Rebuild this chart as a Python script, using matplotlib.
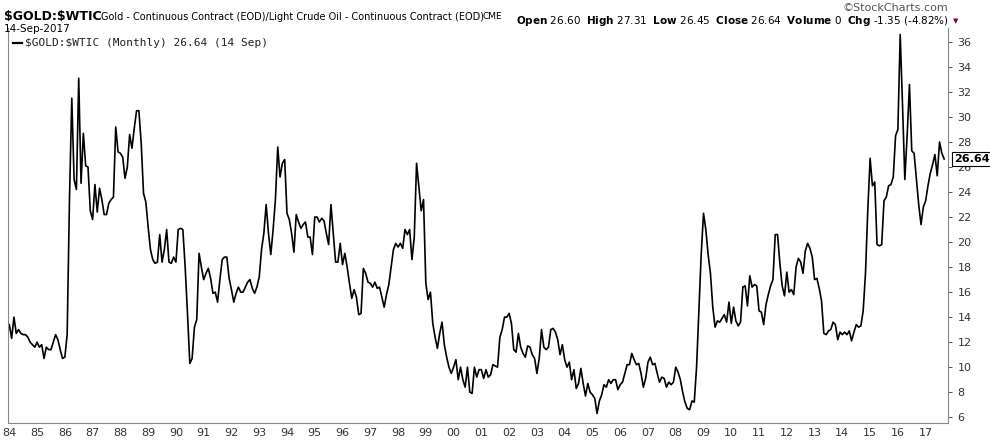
import numpy as np
import matplotlib.pyplot as plt

# monthly ratio values, Jan 1984 .. Sep 2017
Y1984 = [13.4, 12.3, 14.0, 12.7, 13.0, 12.7, 12.6, 12.6, 12.4, 12.0, 11.8, 11.6]
Y1985 = [12.0, 11.6, 11.8, 10.7, 11.6, 11.4, 11.4, 12.0, 12.6, 12.2, 11.4, 10.7]
Y1986 = [10.8, 12.6, 23.4, 31.5, 25.0, 24.2, 33.1, 24.7, 28.7, 26.1, 26.0, 22.5]
Y1987 = [21.8, 24.6, 22.4, 24.3, 23.4, 22.2, 22.2, 23.1, 23.4, 23.6, 29.2, 27.2]
Y1988 = [27.1, 26.8, 25.1, 26.0, 28.6, 27.5, 29.1, 30.5, 30.5, 27.9, 23.9, 23.2]
Y1989 = [21.2, 19.4, 18.6, 18.3, 18.4, 20.6, 18.4, 19.4, 21.0, 18.4, 18.3, 18.8]
Y1990 = [18.4, 21.0, 21.1, 21.0, 18.0, 14.3, 10.3, 10.7, 13.2, 13.8, 19.1, 18.0]
Y1991 = [17.0, 17.5, 17.9, 17.1, 15.9, 16.0, 15.2, 17.0, 18.6, 18.8, 18.8, 17.1]
Y1992 = [16.2, 15.2, 15.9, 16.4, 16.0, 16.0, 16.4, 16.8, 17.0, 16.3, 15.9, 16.4]
Y1993 = [17.2, 19.4, 20.7, 23.0, 20.7, 19.0, 21.0, 23.4, 27.6, 25.2, 26.3, 26.6]
Y1994 = [22.3, 21.8, 20.7, 19.2, 22.2, 21.6, 21.1, 21.4, 21.6, 20.4, 20.4, 19.0]
Y1995 = [22.0, 22.0, 21.6, 21.9, 21.7, 20.7, 19.8, 23.0, 20.7, 18.4, 18.4, 19.9]
Y1996 = [18.2, 19.1, 18.0, 16.7, 15.5, 16.2, 15.6, 14.2, 14.3, 17.9, 17.5, 16.8]
Y1997 = [16.7, 16.4, 16.8, 16.3, 16.4, 15.6, 14.8, 15.8, 16.6, 18.0, 19.4, 19.9]
Y1998 = [19.6, 19.9, 19.5, 21.0, 20.6, 21.0, 18.6, 20.4, 26.3, 24.4, 22.5, 23.4]
Y1999 = [16.7, 15.4, 16.0, 13.5, 12.4, 11.5, 12.7, 13.6, 11.8, 10.8, 10.0, 9.5]
Y2000 = [10.0, 10.6, 9.0, 10.0, 9.0, 8.4, 10.0, 8.0, 7.9, 10.0, 9.2, 9.8]
Y2001 = [9.8, 9.1, 9.8, 9.2, 9.4, 10.2, 10.1, 10.0, 12.4, 13.0, 14.0, 14.0]
Y2002 = [14.3, 13.5, 11.4, 11.2, 12.7, 11.6, 11.1, 10.8, 11.7, 11.6, 11.0, 10.7]
Y2003 = [9.5, 10.7, 13.0, 11.6, 11.4, 11.6, 13.0, 13.1, 12.8, 12.2, 11.0, 11.8]
Y2004 = [10.6, 10.0, 10.4, 9.0, 9.8, 8.3, 8.7, 9.9, 8.7, 7.7, 8.7, 8.0]
Y2005 = [7.8, 7.5, 6.3, 7.3, 7.8, 8.6, 8.4, 9.0, 8.7, 9.0, 9.0, 8.2]
Y2006 = [8.6, 8.8, 9.5, 10.2, 10.2, 11.1, 10.6, 10.2, 10.3, 9.5, 8.4, 9.1]
Y2007 = [10.4, 10.8, 10.2, 10.3, 9.5, 8.8, 9.2, 9.1, 8.4, 8.8, 8.6, 8.8]
Y2008 = [10.0, 9.6, 9.0, 8.0, 7.2, 6.7, 6.6, 7.3, 7.2, 10.0, 14.5, 19.0]
Y2009 = [22.3, 21.0, 19.0, 17.5, 14.8, 13.2, 13.7, 13.6, 13.9, 14.2, 13.6, 15.2]
Y2010 = [13.5, 14.8, 13.7, 13.3, 13.6, 16.4, 16.5, 14.9, 17.3, 16.4, 16.6, 16.5]
Y2011 = [14.5, 14.4, 13.4, 15.0, 15.8, 16.5, 17.0, 20.6, 20.6, 18.3, 16.5, 15.7]
Y2012 = [17.6, 16.0, 16.2, 15.8, 18.0, 18.7, 18.4, 17.5, 19.3, 19.9, 19.5, 18.8]
Y2013 = [17.0, 17.1, 16.3, 15.3, 12.7, 12.6, 12.9, 13.0, 13.6, 13.4, 12.2, 12.8]
Y2014 = [12.6, 12.8, 12.6, 12.9, 12.1, 12.8, 13.4, 13.2, 13.3, 14.5, 17.5, 22.6]
Y2015 = [26.7, 24.5, 24.8, 19.8, 19.7, 19.8, 23.3, 23.6, 24.5, 24.6, 25.2, 28.5]
Y2016 = [29.0, 36.6, 31.0, 25.0, 28.5, 32.6, 27.3, 27.1, 25.0, 23.0, 21.4, 22.8]
Y2017 = [23.3, 24.5, 25.5, 26.2, 27.0, 25.3, 28.0, 27.1, 26.64]

YEARS = [Y1984, Y1985, Y1986, Y1987, Y1988, Y1989, Y1990, Y1991, Y1992,
         Y1993, Y1994, Y1995, Y1996, Y1997, Y1998, Y1999, Y2000, Y2001,
         Y2002, Y2003, Y2004, Y2005, Y2006, Y2007, Y2008, Y2009, Y2010,
         Y2011, Y2012, Y2013, Y2014, Y2015, Y2016, Y2017]
values = np.concatenate(YEARS)
t = 1984 + np.arange(len(values)) / 12.0

year_ticks = list(range(1984, 2018))
year_labels = [f'{y % 100:02d}' for y in year_ticks]
y_ticks = list(range(6, 37, 2))
last = values[-1]
YLO, YHI = 5.55, 37.1

fig = plt.figure(figsize=(9.9, 4.4), dpi=100)
ax = fig.add_axes([0.008, 0.039, 0.950, 0.897])
ax.plot(t, values, color='black', linewidth=1.2)
ax.set_xlim(1983.95, 2017.82)
ax.set_ylim(YLO, YHI)

ax.yaxis.tick_right()
ax.set_yticks(y_ticks)
ax.set_yticklabels([str(v) for v in y_ticks])
ax.set_xticks(year_ticks)
ax.set_xticklabels(year_labels)
ax.tick_params(axis='both', labelsize=8, colors='#333333', length=3, width=0.6)
ax.tick_params(axis='x', length=0, pad=4)
ax.spines['top'].set_visible(False)
for side in ['left', 'bottom', 'right']:
    ax.spines[side].set_color('#888888')
    ax.spines[side].set_linewidth(0.8)

# last value tag
ax.annotate(f'{last:.2f}', xy=(1.0, (last - YLO) / (YHI - YLO)), xycoords='axes fraction',
            xytext=(4, 0), textcoords='offset points', va='center', ha='left',
            fontsize=8, fontweight='bold',
            bbox=dict(boxstyle='square,pad=0.15', fc='white', ec='black', lw=0.8))

# legend-like label
ax.plot([1984.15, 1984.45], [35.9, 35.9], color='black', linewidth=1.6)
ax.text(1984.55, 35.9, r'\$GOLD:\$WTIC (Monthly) 26.64 (14 Sep)', fontsize=8,
        family='DejaVu Sans Mono', va='center', ha='left', color='#222222')

# header
fig.text(0.004, 0.962, r'\$GOLD:\$WTIC', fontsize=9, fontweight='bold', va='center', ha='left')
fig.text(0.102, 0.962, 'Gold - Continuous Contract (EOD)/Light Crude Oil - Continuous Contract (EOD)',
         fontsize=7, va='center', ha='left')
fig.text(0.487, 0.962, 'CME', fontsize=6.5, va='center', ha='left')
fig.text(0.004, 0.935, '14-Sep-2017', fontsize=7.5, va='center', ha='left')
fig.text(0.958, 0.982, '\u00a9StockCharts.com', fontsize=8, color='#555555', va='center', ha='right')
fig.text(0.958, 0.952,
         r'$\bf{Open}$ 26.60  $\bf{High}$ 27.31  $\bf{Low}$ 26.45  $\bf{Close}$ 26.64  '
         r'$\bf{Volume}$ 0  $\bf{Chg}$ -1.35 (-4.82%)',
         fontsize=7.5, va='center', ha='right')
fig.text(0.965, 0.952, '\u25bc', fontsize=5, color='#8b0020', va='center', ha='center')

fig.savefig('out.png', dpi=100)
